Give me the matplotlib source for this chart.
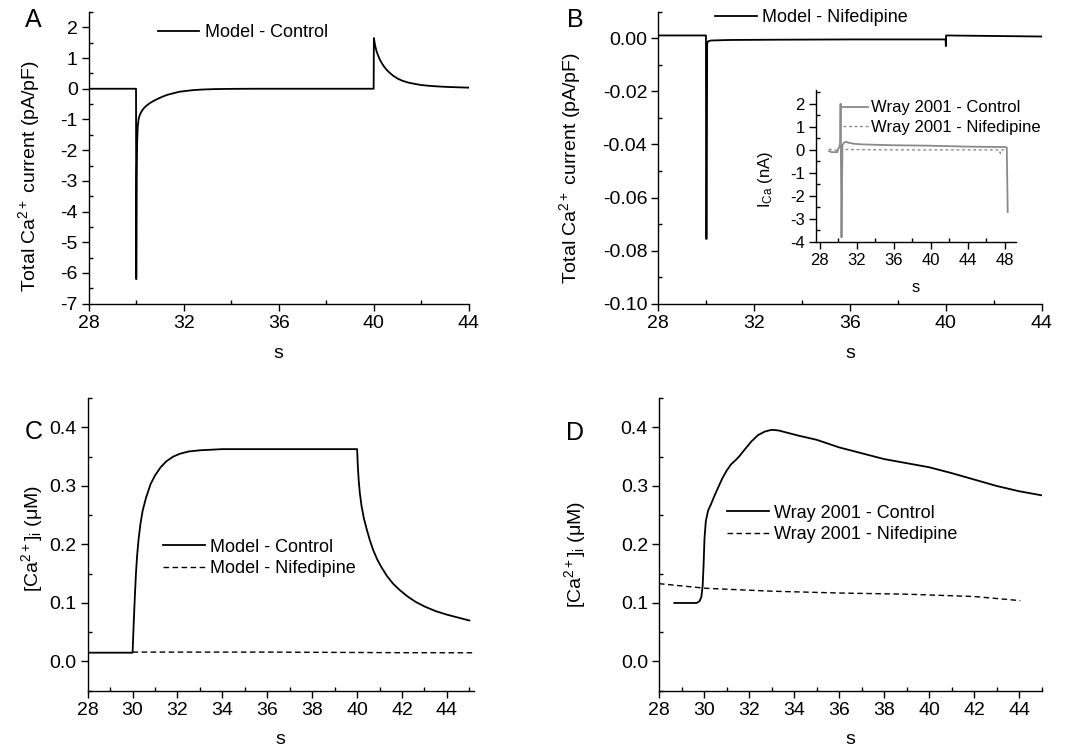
import matplotlib
matplotlib.use("Agg")
import matplotlib.pyplot as plt
from matplotlib.ticker import MultipleLocator, FuncFormatter

plt.rcParams['font.family'] = ['Liberation Sans', 'DejaVu Sans']
plt.rcParams['mathtext.fontset'] = 'custom'
plt.rcParams['mathtext.rm'] = 'Liberation Sans'
plt.rcParams['mathtext.it'] = 'Liberation Sans:italic'
plt.rcParams['axes.unicode_minus'] = False

# ---------------- data ----------------
# Panel A: model control total Ca current (pA/pF)
a_t = [28, 29.99, 30.0, 30.01, 30.02, 30.035, 30.06, 30.1, 30.15, 30.22, 30.3, 30.4, 30.55,
       30.72, 30.9, 31.1, 31.3, 31.55, 31.8, 32.1, 32.4, 32.8, 33.3, 34, 35, 37, 39.99,
       40.0, 40.03, 40.07, 40.12, 40.18, 40.25, 40.33, 40.42, 40.52, 40.65, 40.8, 41.0, 41.2,
       41.45, 41.7, 42.0, 42.4, 42.8, 43.2, 43.6, 44.0]
a_i = [0, 0, -6.2, -4.5, -2.8, -1.8, -1.25, -0.98, -0.85, -0.74, -0.65, -0.57, -0.48,
       -0.4, -0.33, -0.26, -0.2, -0.15, -0.1, -0.07, -0.045, -0.025, -0.012, -0.004, 0, 0, 0,
       1.65, 1.5, 1.35, 1.2, 1.08, 0.95, 0.84, 0.73, 0.63, 0.53, 0.43, 0.33, 0.26,
       0.2, 0.16, 0.12, 0.09, 0.07, 0.055, 0.045, 0.035]

# Panel B: model nifedipine total Ca current (pA/pF)
b_t = [28, 29.99, 30.0, 30.02, 30.04, 30.08, 30.2, 31, 33, 36, 39.99, 40.0, 40.005, 40.01,
       41, 42, 43, 44]
b_i = [0.001, 0.001, -0.0755, -0.0755, -0.002, -0.0012, -0.0009, -0.0007, -0.0006, -0.0005,
       -0.0005, -0.003, -0.003, 0.001, 0.0009, 0.0008, 0.0007, 0.0006]

# Inset: Wray 2001 I_Ca (nA)
w_t = [29.0, 29.3, 29.9, 30.0, 30.1, 30.2, 30.25, 30.3, 30.35, 30.45, 30.6, 30.8, 31.2, 31.8,
       32.5, 34, 36, 38, 40, 42, 44, 46, 48.1, 48.2, 48.3]
w_ctrl = [-0.05, -0.1, -0.1, 0.05, 0.1, 0.3, 2.0, -1.0, -3.8, 0.2, 0.3, 0.35, 0.3, 0.26,
          0.24, 0.22, 0.2, 0.19, 0.18, 0.16, 0.14, 0.13, 0.12, 0.1, -2.7]
wn_t = [29.0, 29.8, 30.3, 35, 40, 45, 47.4, 47.5, 47.6, 48.0]
w_nif = [0.03, -0.02, 0.02, 0.0, 0.0, 0.0, 0.0, -0.15, 0.0, 0.0]

# Panel C: model [Ca2+]i (uM)
c_t = [28, 30.0, 30.02, 30.05, 30.1, 30.15, 30.2, 30.27, 30.35, 30.45, 30.6, 30.8, 31.0,
       31.25, 31.5, 31.8, 32.1, 32.5, 33.0, 33.5, 34.0, 37.0, 40.0,
       40.03, 40.07, 40.12, 40.2, 40.3, 40.42, 40.56, 40.72, 40.9, 41.1, 41.33, 41.6, 41.9,
       42.25, 42.6, 43.0, 43.5, 44.0, 44.5, 45.0]
c_ctrl = [0.015, 0.015, 0.035, 0.065, 0.11, 0.15, 0.18, 0.21, 0.235, 0.258, 0.28, 0.303, 0.318,
          0.332, 0.342, 0.35, 0.355, 0.359, 0.361, 0.362, 0.363, 0.363, 0.363,
          0.335, 0.31, 0.288, 0.265, 0.245, 0.227, 0.208, 0.19, 0.174, 0.16, 0.146, 0.133, 0.122,
          0.111, 0.102, 0.094, 0.086, 0.08, 0.075, 0.07]
cn_t = [30.0, 33, 36, 39, 42, 45.2]
c_nif = [0.016, 0.016, 0.016, 0.0155, 0.015, 0.0148]

# Panel D: Wray 2001 [Ca2+]i (uM)
d_t = [28.68, 29.67, 29.8, 29.88, 29.94, 29.98, 30.02, 30.08, 30.18, 30.3, 30.45, 30.6, 30.8,
       31.0, 31.2, 31.4, 31.55, 31.8, 32.1, 32.4, 32.7, 33.0, 33.3, 33.7, 34.2, 35.0, 36.0,
       37.0, 38.0, 39.0, 40.0, 41.0, 42.0, 43.0, 44.0, 45.0]
d_ctrl = [0.1, 0.1, 0.103, 0.11, 0.13, 0.165, 0.21, 0.24, 0.258, 0.268, 0.282, 0.295, 0.312,
          0.326, 0.337, 0.344, 0.35, 0.362, 0.376, 0.387, 0.393, 0.396, 0.395, 0.391, 0.386,
          0.379, 0.366, 0.356, 0.346, 0.339, 0.332, 0.322, 0.311, 0.3, 0.291, 0.284]
dn_t = [28.0, 30.1, 33.1, 36.0, 39.0, 42.0, 44.05]
d_nif = [0.133, 0.125, 0.12, 0.117, 0.115, 0.111, 0.104]

# ---------------- figure ----------------
FS = 14
FSL = 13
fig = plt.figure(figsize=(10.77, 7.48), dpi=100)


def style(ax, fs=FS):
    for s in ('top', 'right'):
        ax.spines[s].set_visible(False)
    for s in ('left', 'bottom'):
        ax.spines[s].set_linewidth(1.0)
    ax.tick_params(which='major', direction='out', length=5, width=1.0, labelsize=fs, pad=3)
    ax.tick_params(which='minor', direction='in', length=3, width=1.0)


def fmt(nd):
    def f(v, p):
        s = f"{v:.{nd}f}"
        if s.startswith('-') and float(s) == 0:
            s = s[1:]
        return s
    return FuncFormatter(f)


LW = 1.3
dash = (0, (4, 2.5))

# Panel A
axA = fig.add_axes([0.0824, 0.594, 0.353, 0.390])
style(axA)
axA.plot(a_t, a_i, color='black', lw=LW, label='Model - Control')
axA.set_xlim(28, 44)
axA.set_ylim(-7, 2.5)
axA.xaxis.set_major_locator(MultipleLocator(4))
axA.xaxis.set_minor_locator(MultipleLocator(2))
axA.yaxis.set_major_locator(MultipleLocator(1))
axA.yaxis.set_minor_locator(MultipleLocator(0.5))
axA.set_xlabel('s', fontsize=FS)
axA.xaxis.set_label_coords(0.5, -0.14)
axA.set_ylabel(r'Total Ca$^{2+}$ current (pA/pF)', fontsize=FS)
axA.yaxis.set_label_coords(-0.123, 0.438)
axA.legend(loc='center left', bbox_to_anchor=(0.182, 0.928), frameon=False, borderpad=0,
           borderaxespad=0, handlelength=2.3, handletextpad=0.3, fontsize=FSL)

# Panel B
axB = fig.add_axes([0.6112, 0.5936, 0.356, 0.391])
style(axB)
axB.plot(b_t, b_i, color='black', lw=LW, label='Model - Nifedipine')
axB.set_xlim(28, 44)
axB.set_ylim(-0.10, 0.01)
axB.xaxis.set_major_locator(MultipleLocator(4))
axB.xaxis.set_minor_locator(MultipleLocator(2))
axB.yaxis.set_major_locator(MultipleLocator(0.02))
axB.yaxis.set_minor_locator(MultipleLocator(0.01))
axB.yaxis.set_major_formatter(fmt(2))
axB.set_xlabel('s', fontsize=FS)
axB.xaxis.set_label_coords(0.5, -0.14)
axB.set_ylabel(r'Total Ca$^{2+}$ current (pA/pF)', fontsize=FS)
axB.yaxis.set_label_coords(-0.196, 0.465)
axB.legend(loc='center left', bbox_to_anchor=(0.148, 0.978), frameon=False, borderpad=0,
           borderaxespad=0, handlelength=2.3, handletextpad=0.3, fontsize=FSL)

# Inset
FSI = 12
axI = fig.add_axes([0.7577, 0.6765, 0.1857, 0.2032])
style(axI, FSI)
axI.patch.set_alpha(0)
gray = '#8a8a8a'
axI.plot(w_t, w_ctrl, color=gray, lw=1.3, label='Wray 2001 - Control')
axI.plot(wn_t, w_nif, color=gray, lw=1.0, ls=(0, (2, 2)), label='Wray 2001 - Nifedipine')
axI.set_xlim(27.6, 49.2)
axI.set_ylim(-4, 2.6)
axI.xaxis.set_major_locator(MultipleLocator(4))
axI.xaxis.set_minor_locator(MultipleLocator(2))
axI.yaxis.set_major_locator(MultipleLocator(1))
axI.yaxis.set_minor_locator(MultipleLocator(0.5))
axI.set_xlabel('s', fontsize=FSI)
axI.xaxis.set_label_coords(0.5, -0.25)
axI.set_ylabel(r'I$_{\mathregular{Ca}}$ (nA)', fontsize=FSI)
axI.yaxis.set_label_coords(-0.205, 0.41)
axI.legend(loc='center left', bbox_to_anchor=(0.135, 0.819), frameon=False, borderpad=0,
           borderaxespad=0, handlelength=1.5, handletextpad=0.15, labelspacing=0.25,
           fontsize=FSI)

# Panel C
axC = fig.add_axes([0.0814, 0.0766, 0.3586, 0.391])
style(axC)
axC.plot(c_t, c_ctrl, color='black', lw=LW, label='Model - Control')
axC.plot(cn_t, c_nif, color='black', lw=1.0, ls=dash, label='Model - Nifedipine')
axC.set_xlim(28, 45.2)
axC.set_ylim(-0.05, 0.45)
axC.xaxis.set_major_locator(MultipleLocator(2))
axC.xaxis.set_minor_locator(MultipleLocator(1))
axC.yaxis.set_major_locator(MultipleLocator(0.1))
axC.yaxis.set_minor_locator(MultipleLocator(0.05))
axC.yaxis.set_major_formatter(fmt(1))
axC.set_xlabel('s', fontsize=FS)
axC.xaxis.set_label_coords(0.5, -0.138)
axC.set_ylabel(r'$\mathregular{[Ca^{2+}]_i}$ (μM)', fontsize=FS)
axC.yaxis.set_label_coords(-0.11, 0.522)
axC.legend(loc='center left', bbox_to_anchor=(0.195, 0.454), frameon=False, borderpad=0,
           borderaxespad=0, handlelength=2.3, handletextpad=0.3, labelspacing=0.25,
           fontsize=FSL)

# Panel D
axD = fig.add_axes([0.6119, 0.0766, 0.3553, 0.391])
style(axD)
axD.plot(d_t, d_ctrl, color='black', lw=LW, label='Wray 2001 - Control')
axD.plot(dn_t, d_nif, color='black', lw=1.0, ls=dash, label='Wray 2001 - Nifedipine')
axD.set_xlim(28, 45)
axD.set_ylim(-0.05, 0.45)
axD.xaxis.set_major_locator(MultipleLocator(2))
axD.xaxis.set_minor_locator(MultipleLocator(1))
axD.yaxis.set_major_locator(MultipleLocator(0.1))
axD.yaxis.set_minor_locator(MultipleLocator(0.05))
axD.yaxis.set_major_formatter(fmt(1))
axD.set_xlabel('s', fontsize=FS)
axD.xaxis.set_label_coords(0.5, -0.138)
axD.set_ylabel(r'$\mathregular{[Ca^{2+}]_i}$ (μM)', fontsize=FS)
axD.yaxis.set_label_coords(-0.186, 0.464)
axD.legend(loc='center left', bbox_to_anchor=(0.178, 0.570), frameon=False, borderpad=0,
           borderaxespad=0, handlelength=2.3, handletextpad=0.3, labelspacing=0.25,
           fontsize=FSL)

# Panel letters
for lbl, (px, py) in zip('ABCD', [(33, 20), (575, 20), (34, 432), (575, 433)]):
    fig.text(px / 1077, 1 - py / 748, lbl, fontsize=18, ha='center', va='center')

fig.savefig('out.png', dpi=100)
